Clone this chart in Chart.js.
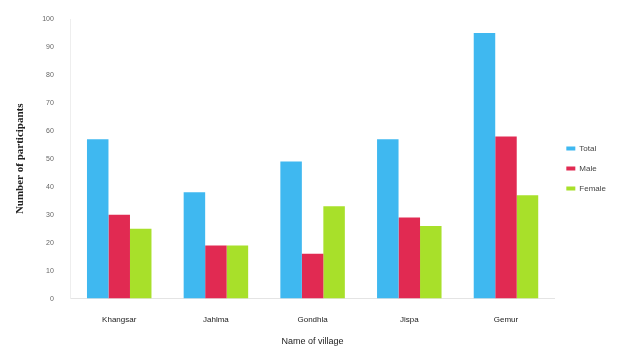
<!DOCTYPE html>
<html>
<head>
<meta charset="utf-8">
<script src="https://cdn.jsdelivr.net/npm/chart.js@4"></script>
<style>
  html, body { margin: 0; padding: 0; background: #fff; }
  #wrap { width: 626px; height: 348px; }
</style>
</head>
<body>
<div id="wrap"><canvas id="myChart" width="626" height="348"></canvas></div>
<script>
var villages = ["Khangsar", "Jahlma", "Gondhla", "Jispa", "Gemur"];
var totalCounts = [57, 38, 49, 57, 95];
var maleCounts = [30, 19, 16, 29, 58];
var femaleCounts = [25, 19, 33, 26, 37];
var yTicks = [0, 10, 20, 30, 40, 50, 60, 70, 80, 90, 100];

var ctx = document.getElementById('myChart').getContext('2d');
var myChart = new Chart(ctx, {
    type: 'bar',
    data: {
        labels: villages,
        datasets: [{
            label: "Total",
            data: totalCounts,
            backgroundColor: "#3fb8f0"
        }, {
            label: "Male",
            data: maleCounts,
            backgroundColor: "#e12a52"
        }, {
            label: "Female",
            data: femaleCounts,
            backgroundColor: "#a8e02a"
        }]
    },
    options: {
        responsive: false,
        animation: false,
        layout: { padding: { top: 19, left: 14, right: 10, bottom: 0 } },
        datasets: {
            bar: { categoryPercentage: 0.667, barPercentage: 1.0 }
        },
        plugins: {
            legend: {
                position: 'right',
                align: 'start',
                title: {
                    display: true,
                    text: ' ',
                    padding: { top: 0, bottom: 104 },
                    font: { size: 8 }
                },
                labels: {
                    boxWidth: 9,
                    boxHeight: 4,
                    padding: 12,
                    color: '#444',
                    font: { family: 'Liberation Sans', size: 8 }
                }
            },
            tooltip: { enabled: false }
        },
        scales: {
            x: {
                grid: { display: false, drawTicks: true },
                border: { color: '#e4e4e4' },
                ticks: { color: '#222', font: { family: 'Liberation Sans', size: 8 }, padding: 8 },
                title: {
                    display: true,
                    text: "Name of village",
                    color: '#222',
                    font: { family: 'Liberation Sans', size: 9 },
                    padding: { top: 4, bottom: 1 }
                }
            },
            y: {
                min: 0,
                max: 100,
                afterBuildTicks: function (axis) {
                    axis.ticks = yTicks.map(function (v) { return { value: v }; });
                },
                grid: { display: false },
                border: { color: '#eeeeee' },
                ticks: { color: '#666', font: { family: 'Liberation Sans', size: 7 }, padding: 9 },
                title: {
                    display: true,
                    text: "Number of participants",
                    color: '#222',
                    font: { family: 'Liberation Serif', size: 11, weight: 'bold' },
                    padding: { top: 0, bottom: 6 }
                }
            }
        }
    }
});
</script>
</body>
</html>
